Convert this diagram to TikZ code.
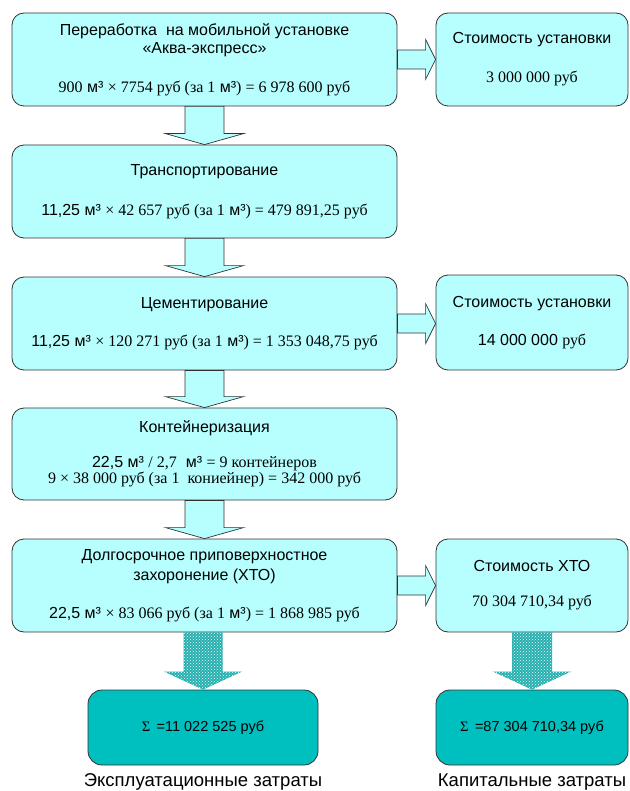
\documentclass[tikz,border=0pt]{standalone}
\usepackage{fontspec}
\setmainfont{Liberation Sans}
\newfontfamily\srf{Liberation Serif}
\usetikzlibrary{calc,patterns}
\definecolor{lcyan}{RGB}{183,255,255}
\definecolor{dteal}{RGB}{0,191,191}
\definecolor{edge}{RGB}{50,50,50}
\definecolor{dotteal}{RGB}{40,175,175}
\tikzset{
  box/.style={draw=edge, line width=0.8pt, fill=lcyan, rounded corners=12pt, align=center,
     font=\fontsize{16}{18}\selectfont, inner sep=0pt},
  sumbox/.style={draw=edge, line width=0.8pt, fill=dteal, rounded corners=14pt, align=center,
     font=\fontsize{14.5}{18}\selectfont, inner sep=0pt},
  blk/.style={draw=edge, line width=0.7pt, fill=lcyan},
  dotblk/.style={draw=none, fill=dotteal, postaction={pattern=crosshatch dots, pattern color=white!75!lcyan}},
  captext/.style={font=\fontsize{18.5}{20}\selectfont, inner sep=0pt}
}
% vertical block arrow from node #1 (south) to node #2 (north)
\newcommand\vblk[5]{% #1 from, #2 to, #3 style, #4 shaft half width, #5 head length
  \path (#1.south) coordinate (tA) (#2.north) coordinate (tB);
  \path[#3] let \p1=(tA), \p2=(tB) in
    (\x2-#4,\y1) -- (\x2-#4,\y2+#5) -- (\x2-39pt,\y2+#5) -- (\x2,\y2) --
    (\x2+39pt,\y2+#5) -- (\x2+#4,\y2+#5) -- (\x2+#4,\y1) -- cycle;
}
\newcommand\hblk[2]{% horizontal block arrow from node #1 (east) to node #2 (west)
  \path (#1.east) coordinate (tA) (#2.west) coordinate (tB);
  \path[blk] let \p1=(tA), \p2=(tB) in
    (\x1,\y1+9.5pt) -- (\x2-10pt,\y1+9.5pt) -- (\x2-10pt,\y1+20pt) -- (\x2,\y1) --
    (\x2-10pt,\y1-20pt) -- (\x2-10pt,\y1-9.5pt) -- (\x1,\y1-9.5pt) -- cycle;
}
\begin{document}
\begin{tikzpicture}[x=1pt,y=-1pt]
\useasboundingbox (0,0) rectangle (629,791);
% left column boxes
\node[box, minimum width=385pt, minimum height=93pt] (b1) at (204.5,59.5)
  {Переработка\ \ на мобильной установке\\«Аква-экспресс»\\[21pt]
   {\srf 900} м³ {\srf × 7754 руб (за 1} м³{\srf ) = 6 978 600 руб}};
\node[box, minimum width=385pt, minimum height=93pt] (b2) at (204.5,191.5)
  {Транспортирование\\[22pt]
   11,25 м³ {\srf × 42 657 руб (за 1} м³{\srf ) = 479 891,25 руб}};
\node[box, minimum width=385pt, minimum height=93pt] (b3) at (204.5,323.5)
  {Цементирование\\[20pt]
   11,25 м³ {\srf × 120 271 руб (за 1} м³{\srf ) = 1 353 048,75 руб}};
\node[box, minimum width=385pt, minimum height=92pt] (b4) at (204.5,454)
  {Контейнеризация\\[17pt]
   22,5 м³ {\srf / 2,7}\ \ м³ {\srf = 9 контейнеров}\\[-2pt]
   {\srf 9 × 38 000 руб (за 1\ \ кониейнер) = 342 000 руб}};
\node[box, minimum width=385pt, minimum height=93pt] (b5) at (204.5,585.5)
  {Долгосрочное приповерхностное\\[2pt]захоронение (ХТО)\\[20pt]
   22,5 м³ {\srf × 83 066 руб (за 1} м³{\srf ) = 1 868 985 руб}};
% right column boxes
\node[box, minimum width=192pt, minimum height=93pt] (r1) at (532,59.5)
  {Стоимость установки\\[21pt]{\srf 3 000 000 руб}};
\node[box, minimum width=192pt, minimum height=95pt] (r2) at (532,322.5)
  {Стоимость установки\\[20pt]14 000 000 {\srf руб}};
\node[box, minimum width=192pt, minimum height=93pt] (r3) at (532,585.5)
  {Стоимость ХТО\\[17pt]{\srf 70 304 710,34 руб}};
% sum boxes
\node[sumbox, minimum width=230pt, minimum height=75pt] (s1) at (203,727.5)
  {{\srf Σ} \,=11 022 525 руб};
\node[sumbox, minimum width=192pt, minimum height=75pt] (s2) at (532,727.5)
  {{\srf Σ} \,=87 304 710,34 руб};
\node[captext, anchor=north] (l1) at ($(s1.south)+(0,8)$) {Эксплуатационные затраты};
\node[captext, anchor=north] (l2) at ($(s2.south)+(0,8)$) {Капитальные затраты};
% arrows
\vblk{b1}{b2}{blk}{19.5pt}{11pt}
\vblk{b2}{b3}{blk}{19.5pt}{11pt}
\vblk{b3}{b4}{blk}{19.5pt}{11pt}
\vblk{b4}{b5}{blk}{19.5pt}{11pt}
\hblk{b1}{r1}
\hblk{b3}{r2}
\hblk{b5}{r3}
\vblk{b5}{s1}{dotblk}{19.5pt}{18pt}
\vblk{r3}{s2}{dotblk}{20pt}{18pt}
\end{tikzpicture}
\end{document}
